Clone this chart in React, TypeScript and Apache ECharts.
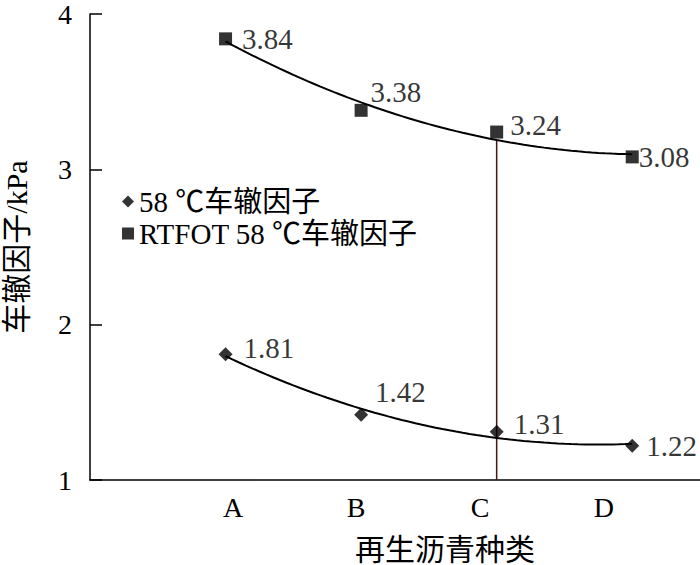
import React, { useEffect, useRef } from "react";
import * as echarts from "echarts";

// ---- data ----
const categories = ["A", "B", "C", "D"];
const categoryX = [1, 2, 3, 4];
const rutting58 = [1.81, 1.42, 1.31, 1.22];
const ruttingRTFOT58 = [3.84, 3.38, 3.24, 3.08];
const seriesNames = ["58 \u2103车辙因子", "RTFOT 58 \u2103车辙因子"];
const yTicks = [1, 2, 3, 4];
const markedCategory = "C";

// label offsets (style only)
const offsetsLow = [[11, -6], [7, -23], [10, -8], [7, 0]];
const offsetsHigh = [[10, 0], [3, -18], [7, -7], [0, 0]];
// where the category tick labels sit on the x scale (as in the reference)
const categoryLabelAt = [1.055, 1.963, 2.878, 3.79];

const FONT = "'Liberation Serif', 'Times New Roman', 'Noto Sans CJK SC', serif";

// least-squares quadratic fit (trend line, as in the original spreadsheet chart)
function quadFit(xs: number[], ys: number[]) {
  const n = xs.length;
  let s0 = n, s1 = 0, s2 = 0, s3 = 0, s4 = 0, t0 = 0, t1 = 0, t2 = 0;
  for (let i = 0; i < n; i++) {
    const x = xs[i], y = ys[i];
    s1 += x; s2 += x * x; s3 += x * x * x; s4 += x * x * x * x;
    t0 += y; t1 += x * y; t2 += x * x * y;
  }
  const M = [[s0, s1, s2, t0], [s1, s2, s3, t1], [s2, s3, s4, t2]];
  for (let i = 0; i < 3; i++) {
    for (let j = i + 1; j < 3; j++) {
      const f = M[j][i] / M[i][i];
      for (let k = i; k < 4; k++) M[j][k] -= f * M[i][k];
    }
  }
  const c = M[2][3] / M[2][2];
  const b = (M[1][3] - M[1][2] * c) / M[1][1];
  const a = (M[0][3] - M[0][1] * b - M[0][2] * c) / M[0][0];
  return (x: number) => a + b * x + c * x * x;
}

function trendPoints(f: (x: number) => number, x0: number, x1: number) {
  const pts: number[][] = [];
  const steps = 60;
  for (let i = 0; i <= steps; i++) {
    const x = x0 + ((x1 - x0) * i) / steps;
    pts.push([x, f(x)]);
  }
  return pts;
}

export default function App() {
  const ref = useRef<HTMLDivElement>(null);
  useEffect(() => {
    if (!ref.current) return;
    const chart = echarts.init(ref.current, undefined, { renderer: "svg" });
    const fLow = quadFit(categoryX, rutting58);
    const fHigh = quadFit(categoryX, ruttingRTFOT58);
    const xMin = categoryX[0];
    const xMax = categoryX[categoryX.length - 1];
    const markX = categoryX[categories.indexOf(markedCategory)];

    const mkLabelData = (vals: number[], offs: number[][]) =>
      vals.map((v, i) => ({
        value: [categoryX[i], v],
        label: { offset: offs[i] },
      }));

    const dataLabel = {
      show: true,
      position: "right",
      distance: 0,
      fontFamily: FONT,
      fontSize: 29,
      color: "#000",
      formatter: (p: any) => p.value[1].toFixed(2),
    };

    chart.setOption({
      animation: false,
      backgroundColor: "#ffffff",
      textStyle: { fontFamily: FONT, color: "#000" },
      grid: {
        left: 90,
        right: 0,
        top: 14,
        bottom: 85,
        containLabel: false,
        outerBoundsMode: "none",
      },
      legend: {
        orient: "vertical",
        left: 117,
        top: 182,
        itemWidth: 12,
        itemHeight: 12,
        itemGap: 3,
        data: [
          { name: seriesNames[0], icon: "diamond" },
          { name: seriesNames[1], icon: "rect" },
        ],
        textStyle: { fontFamily: FONT, fontSize: 29, color: "#000" },
      },
      xAxis: {
        type: "value",
        min: 0,
        max: 4.5,
        name: "再生沥青种类",
        nameLocation: "middle",
        nameGap: 54,
        nameTextStyle: {
          fontFamily: FONT,
          fontSize: 30,
          lineHeight: 30,
          color: "#000",
          padding: [0, 0, 0, 100],
        },
        axisLine: { show: true, lineStyle: { color: "#000", width: 1.5 } },
        axisTick: { show: false },
        splitLine: { show: false },
        axisLabel: {
          customValues: categoryLabelAt,
          fontFamily: FONT,
          fontSize: 28,
          color: "#000",
          margin: 13,
          formatter: (v: number) => {
            let best = 0;
            for (let i = 1; i < categoryLabelAt.length; i++) {
              if (Math.abs(categoryLabelAt[i] - v) < Math.abs(categoryLabelAt[best] - v)) best = i;
            }
            return categories[best];
          },
        },
      },
      yAxis: {
        type: "value",
        min: yTicks[0],
        max: yTicks[yTicks.length - 1],
        interval: 1,
        name: "车辙因子/kPa",
        nameLocation: "middle",
        nameGap: 60,
        nameTextStyle: { fontFamily: FONT, fontSize: 30, lineHeight: 28, color: "#000" },
        axisLine: { show: true, lineStyle: { color: "#000", width: 1.5 } },
        axisTick: { show: true, inside: true, length: 12, lineStyle: { color: "#000", width: 1.5 } },
        splitLine: { show: false },
        axisLabel: { fontFamily: FONT, fontSize: 28, lineHeight: 24, color: "#000", margin: 18 },
      },
      series: [
        {
          name: "trend-low",
          type: "line",
          data: trendPoints(fLow, xMin, xMax),
          showSymbol: false,
          silent: true,
          lineStyle: { color: "#000", width: 2 },
          z: 2,
        },
        {
          name: "trend-high",
          type: "line",
          data: trendPoints(fHigh, xMin, xMax),
          showSymbol: false,
          silent: true,
          lineStyle: { color: "#000", width: 2 },
          z: 2,
        },
        {
          name: "marker-line",
          type: "line",
          data: [[markX, yTicks[0]], [markX, fHigh(markX)]],
          showSymbol: false,
          silent: true,
          lineStyle: { color: "#4a1616", width: 1.5 },
          z: 1,
        },
        {
          name: seriesNames[0],
          type: "scatter",
          symbol: "diamond",
          symbolSize: 14,
          itemStyle: { color: "#000" },
          data: mkLabelData(rutting58, offsetsLow),
          label: dataLabel,
          z: 5,
        },
        {
          name: seriesNames[1],
          type: "scatter",
          symbol: "rect",
          symbolSize: 13,
          itemStyle: { color: "#000" },
          data: mkLabelData(ruttingRTFOT58, offsetsHigh),
          label: dataLabel,
          z: 5,
        },
      ],
    });
    return () => chart.dispose();
  }, []);
  return (
    <div
      ref={ref}
      style={{ position: "fixed", left: 0, top: 0, width: 700, height: 565, background: "#fff" }}
    />
  );
}
